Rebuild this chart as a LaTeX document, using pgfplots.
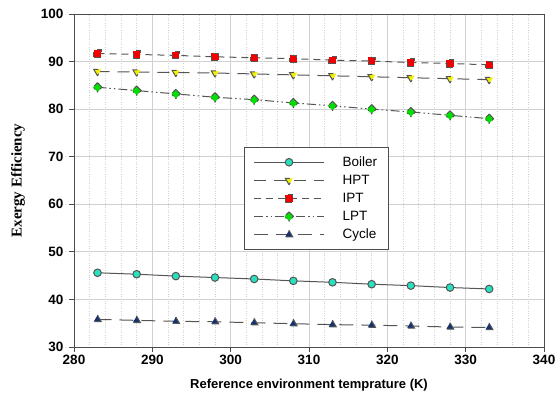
\documentclass[border=0pt]{standalone}
\usepackage{pgfplots}
\pgfplotsset{compat=1.18}
\usepackage{fontspec}
\setmainfont{Liberation Sans}
\newfontfamily\timesf{Liberation Serif}
\definecolor{boilc}{RGB}{40,225,190}
\definecolor{hptc}{RGB}{240,240,0}
\definecolor{iptc}{RGB}{240,0,0}
\definecolor{lptc}{RGB}{0,225,0}
\definecolor{cycc}{RGB}{20,50,110}
\definecolor{linec}{RGB}{85,85,85}
\begin{document}
\begin{tikzpicture}
\begin{axis}[
  scale only axis,
  width=470pt, height=333pt,
  xmin=280, xmax=340, ymin=30, ymax=100,
  xtick={280,290,...,340}, ytick={30,40,...,100},
  minor x tick num=4,
  grid=major,
  xminorgrids=true,
  major grid style={draw=black!18, line width=0.8pt},
  minor grid style={draw=black!18, dotted, line width=0.6pt},
  axis line style={draw=black!70, line width=0.8pt},
  xtick pos=bottom, ytick pos=left,
  tick style={draw=black!70, line width=0.8pt},
  tick align=outside,
  major tick length=5pt, minor tick length=0pt,
  ticklabel style={font=\fontsize{13.5}{15}\selectfont\bfseries},
  yticklabel style={xshift=-2pt},
  /pgf/number format/assume math mode=true,
  xlabel={Reference environment temprature (K)},
  xlabel style={font=\fontsize{13}{15}\selectfont\bfseries, at={(axis description cs:0.5,-0.114)}, anchor=center},
  ylabel={Exergy Efficiency},
  ylabel style={font=\fontsize{15}{17}\selectfont\bfseries\timesf, at={(axis description cs:-0.119,0.5)}, anchor=center},
  legend style={at={(0.362,0.60)}, anchor=north west, draw=black!70, line width=0.8pt,
    font=\fontsize{13.5}{16}\selectfont, row sep=3.2pt, inner xsep=9pt, inner ysep=7pt,
    cells={anchor=west}},
  legend image code/.code={\draw[mark repeat=2,mark phase=2,#1] plot coordinates {(0pt,0pt) (35pt,0pt) (70pt,0pt)}; \path (86pt,0pt);},
  every axis plot/.append style={line width=1pt, draw=linec, mark options={solid, draw=black, line width=0.6pt}},
]
\addplot[mark=*, mark size=3.8pt, mark options={fill=boilc}] coordinates {
(283,45.6) (288,45.3) (293,44.9) (298,44.6) (303,44.3) (308,43.9) (313,43.6) (318,43.2) (323,42.9) (328,42.5) (333,42.2)};
\addlegendentry{Boiler}
\addplot[dash pattern=on 12pt off 8pt, mark=triangle*, mark size=4.3pt, mark options={fill=hptc, rotate=180}] coordinates {
(283,87.9) (288,87.8) (293,87.7) (298,87.6) (303,87.4) (308,87.2) (313,87.0) (318,86.8) (323,86.6) (328,86.4) (333,86.2)};
\addlegendentry{HPT}
\addplot[dash pattern=on 7pt off 5pt, mark=square*, mark size=3.6pt, mark options={fill=iptc}] coordinates {
(283,91.7) (288,91.5) (293,91.3) (298,91.0) (303,90.8) (308,90.6) (313,90.3) (318,90.1) (323,89.8) (328,89.6) (333,89.3)};
\addlegendentry{IPT}
\addplot[dash pattern=on 9pt off 3pt on 1.5pt off 3pt on 1.5pt off 3pt, mark=diamond*, mark size=4.6pt, mark options={fill=lptc, xscale=1.3}] coordinates {
(283,84.6) (288,83.9) (293,83.2) (298,82.5) (303,82.0) (308,81.3) (313,80.7) (318,80.0) (323,79.4) (328,78.7) (333,78.0)};
\addlegendentry{LPT}
\addplot[dash pattern=on 14pt off 8pt, mark=triangle*, mark size=4.3pt, mark options={fill=cycc}] coordinates {
(283,35.8) (288,35.6) (293,35.4) (298,35.3) (303,35.1) (308,34.9) (313,34.7) (318,34.6) (323,34.4) (328,34.2) (333,34.1)};
\addlegendentry{Cycle}
\end{axis}
\pgfresetboundingbox
\path ([shift={(-74pt,-51pt)}]current axis.south west) rectangle ([shift={(14pt,14pt)}]current axis.north east);
\end{tikzpicture}
\end{document}
